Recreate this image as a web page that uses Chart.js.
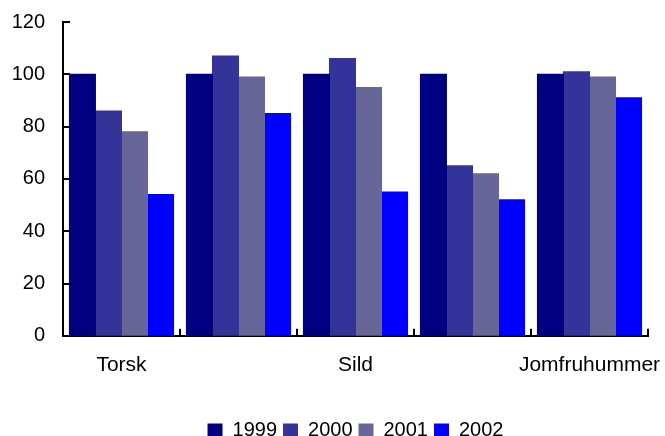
<!DOCTYPE html>
<html>
<head>
<meta charset="utf-8">
<script src="https://cdn.jsdelivr.net/npm/chart.js@4"></script>
<style>
    body { margin: 0; background: #fff; }
    #boks { width: 665px; height: 436px; }
</style>
</head>
<body>
<div id="boks"><canvas id="diagram"></canvas></div>
<script>
const kategorier = ['Torsk', '', 'Sild', '', 'Jomfruhummer'];
const aarstall = ['1999', '2000', '2001', '2002'];
const v1999 = [100, 100, 100, 100, 100];
const v2000 = [86, 107, 106, 65, 101];
const v2001 = [78, 99, 95, 62, 99];
const v2002 = [54, 85, 55, 52, 91];
const farger = ['#000080', '#333399', '#666699', '#0000ff'];
const yTicks = [0, 20, 40, 60, 80, 100, 120];

// Excel-style tick marks that point into the plot area
const innerTicks = {
    id: 'innerTicks',
    afterDatasetsDraw(chart) {
        const ctx = chart.ctx;
        const ys = chart.scales.y;
        const xs = chart.scales.x;
        const area = chart.chartArea;
        ctx.save();
        ctx.strokeStyle = '#000';
        ctx.lineWidth = 2;
        ctx.beginPath();
        ys.ticks.forEach((t, i) => {
            const y = Math.round(ys.getPixelForTick(i));
            ctx.moveTo(area.left, y);
            ctx.lineTo(area.left + 7, y);
        });
        const n = xs.getLabels().length;
        const w = (area.right - area.left) / n;
        for (let i = 1; i <= n; i++) {
            const x = Math.round(area.left + i * w);
            ctx.moveTo(x, area.bottom);
            ctx.lineTo(x, area.bottom - 7);
        }
        ctx.stroke();
        ctx.restore();
    }
};

const serier = [v1999, v2000, v2001, v2002];
const skrift = { family: 'Liberation Sans, Arial', size: 20 };

new Chart(document.getElementById('diagram'), {
    type: 'bar',
    data: {
        labels: kategorier,
        datasets: serier.map((d, i) => ({
            label: aarstall[i],
            data: d,
            backgroundColor: farger[i],
            borderWidth: 0,
            inflateAmount: 0.5,
            categoryPercentage: 0.89,
            barPercentage: 1
        }))
    },
    options: {
        responsive: true,
        maintainAspectRatio: false,
        animation: false,
        layout: { padding: { top: 22, left: 11, right: 17, bottom: -14 } },
        plugins: {
            legend: {
                position: 'bottom',
                fullSize: false,
                labels: {
                    color: '#000',
                    font: skrift,
                    boxWidth: 15,
                    boxHeight: 13,
                    padding: 6
                }
            },
            tooltip: { enabled: false }
        },
        scales: {
            x: {
                offset: true,
                grid: { display: false, drawTicks: false },
                border: { display: true, color: '#000', width: 2 },
                ticks: {
                    color: '#000',
                    font: { family: 'Liberation Sans, Arial', size: 21 },
                    padding: 17,
                    autoSkip: false,
                    maxRotation: 0
                },
                afterFit: (s) => {
                    s.paddingLeft = 0;
                    s.paddingRight = 0;
                    s.height = s.height + 19;
                }
            },
            y: {
                min: 0,
                max: 120,
                afterBuildTicks: (s) => { s.ticks = yTicks.map(v => ({ value: v })); },
                grid: { display: false, drawTicks: false },
                border: { display: true, color: '#000', width: 2 },
                ticks: {
                    color: '#000',
                    font: skrift,
                    padding: 18
                },
                afterFit: (s) => {
                    s.width = 52;
                    s.paddingTop = 0;
                    s.paddingBottom = 0;
                }
            }
        }
    },
    plugins: [innerTicks]
});
</script>
</body>
</html>
